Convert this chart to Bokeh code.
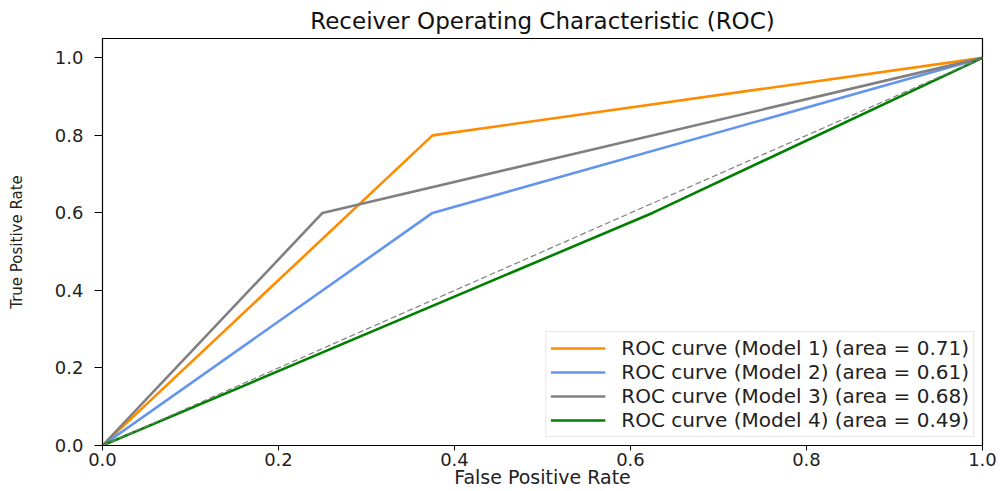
from bokeh.plotting import figure
from bokeh.models import Range1d, FixedTicker, PrintfTickFormatter
from bokeh.embed import file_html
from bokeh.resources import INLINE

# ROC data
fpr_m1 = [0.0, 0.375, 1.0]
tpr_m1 = [0.0, 0.8, 1.0]
fpr_m2 = [0.0, 0.375, 1.0]
tpr_m2 = [0.0, 0.6, 1.0]
fpr_m3 = [0.0, 0.25, 1.0]
tpr_m3 = [0.0, 0.6, 1.0]
fpr_m4 = [0.0, 0.625, 1.0]
tpr_m4 = [0.0, 0.6, 1.0]
diag_x = [0.0, 1.0]
diag_y = [0.0, 1.0]

model_labels = [
    "ROC curve (Model 1) (area = 0.71)",
    "ROC curve (Model 2) (area = 0.61)",
    "ROC curve (Model 3) (area = 0.68)",
    "ROC curve (Model 4) (area = 0.49)",
]
model_colors = ["#ff8c00", "#6495ed", "#808080", "#008000"]
tick_values = [0.0, 0.2, 0.4, 0.6, 0.8, 1.0]

FONT = "DejaVu Sans"

p = figure(width=1000, height=491, output_backend="svg", toolbar_location=None,
           x_range=Range1d(0, 1), y_range=Range1d(0, 1.05),
           min_border_left=102, min_border_right=18, min_border_top=38, min_border_bottom=46,
           title="Receiver Operating Characteristic (ROC)",
           x_axis_label="False Positive Rate", y_axis_label="True Positive Rate")

series = [(fpr_m1, tpr_m1), (fpr_m2, tpr_m2), (fpr_m3, tpr_m3), (fpr_m4, tpr_m4)]
for (xs, ys), lab, col in zip(series, model_labels, model_colors):
    p.line(xs, ys, line_color=col, line_width=2.6, legend_label=lab)

p.line(diag_x, diag_y, line_color="#808080", line_width=1.2, line_dash="6 3")

p.xgrid.visible = False
p.ygrid.visible = False
p.outline_line_color = "black"
p.outline_line_width = 1.2
p.background_fill_color = "white"
p.border_fill_color = "white"

p.title.text_font = FONT
p.title.text_font_style = "normal"
p.title.text_font_size = "23px"
p.title.align = "center"
p.title.text_color = "#111111"

for ax in (p.xaxis[0], p.yaxis[0]):
    ax.ticker = FixedTicker(ticks=tick_values)
    ax.formatter = PrintfTickFormatter(format="%.1f")
    ax.minor_tick_line_color = None
    ax.major_tick_in = 0
    ax.axis_line_color = "black"
    ax.major_tick_line_color = "black"
    ax.major_label_text_font = FONT
    ax.major_label_text_font_size = "18px"
    ax.major_label_text_color = "#222222"
    ax.axis_label_text_font = FONT
    ax.axis_label_text_font_style = "normal"
    ax.axis_label_text_color = "#222222"

p.xaxis[0].major_tick_out = 5
p.xaxis[0].major_label_standoff = 2
p.xaxis[0].axis_label_text_font_size = "19px"
p.xaxis[0].axis_label_standoff = -3

p.yaxis[0].major_tick_out = 8
p.yaxis[0].major_label_standoff = 11
p.yaxis[0].axis_label_text_font_size = "15px"
p.yaxis[0].axis_label_standoff = 26

lg = p.legend[0]
lg.location = "bottom_right"
lg.margin = 8
lg.padding = 4
lg.spacing = -1
lg.glyph_width = 55
lg.glyph_height = 20
lg.label_height = 20
lg.label_standoff = 16
lg.label_text_font = FONT
lg.label_text_font_size = "20px"
lg.label_text_color = "#222222"
lg.border_line_color = "#cccccc"
lg.border_line_width = 1
lg.background_fill_alpha = 0.85

open("out.html", "w").write(file_html(p, INLINE))
